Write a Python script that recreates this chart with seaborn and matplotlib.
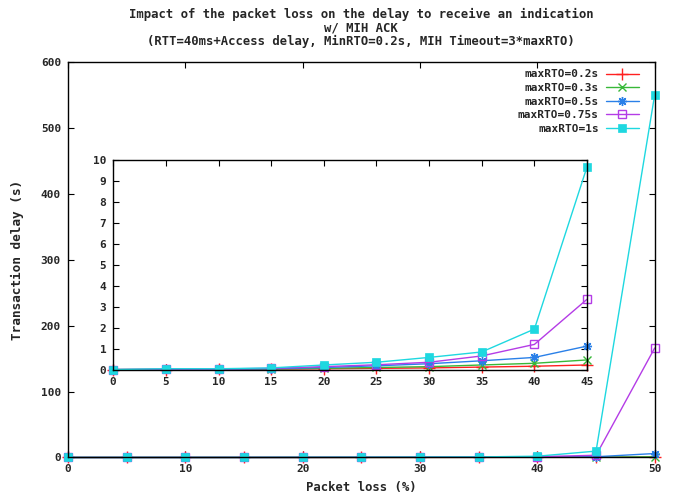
import matplotlib
matplotlib.use("Agg")
import matplotlib.pyplot as plt
import seaborn as sns
import pandas as pd

sns.set_theme(style="white")
plt.rcParams["font.family"] = ["DejaVu Sans Mono", "DejaVu Sans"]
plt.rcParams["font.weight"] = "bold"

# Packet loss (%) and measured transaction delay (s) per maxRTO setting
packet_loss = [0, 5, 10, 15, 20, 25, 30, 35, 40, 45, 50]
delay_rto_02 = [0.02, 0.02, 0.03, 0.04, 0.06, 0.08, 0.10, 0.14, 0.18, 0.24, 0.4]
delay_rto_03 = [0.02, 0.03, 0.03, 0.05, 0.08, 0.12, 0.16, 0.24, 0.32, 0.48, 1.0]
delay_rto_05 = [0.02, 0.03, 0.04, 0.06, 0.12, 0.20, 0.30, 0.44, 0.60, 1.14, 6.0]
delay_rto_075 = [0.02, 0.04, 0.05, 0.08, 0.16, 0.25, 0.37, 0.67, 1.22, 3.37, 166.0]
delay_rto_1 = [0.02, 0.06, 0.06, 0.10, 0.24, 0.37, 0.60, 0.86, 1.95, 9.68, 550.0]

series_labels = ["maxRTO=0.2s", "maxRTO=0.3s", "maxRTO=0.5s", "maxRTO=0.75s", "maxRTO=1s"]
series_values = [delay_rto_02, delay_rto_03, delay_rto_05, delay_rto_075, delay_rto_1]

colors = ["#ff2020", "#38b838", "#2a80e8", "#b43ce6", "#1ed8e0"]
styles = [
    dict(marker="+", markersize=8, mew=1.0),
    dict(marker="x", markersize=6, mew=1.0),
    dict(marker=(8, 2, 0), markersize=6.5, mew=1.0),
    dict(marker="s", markersize=6, mew=1.0, mfc="none"),
    dict(marker="s", markersize=6, mew=0.5),
]

fig = plt.figure(figsize=(6.74, 4.97), dpi=100)
ax = fig.add_axes([0.1009, 0.0795, 0.8705, 0.7965])
ins = fig.add_axes([0.168, 0.2555, 0.703, 0.4225])


def draw(axis, xmax):
    for lbl, vals, col, st in zip(series_labels, series_values, colors, styles):
        df = pd.DataFrame({"loss": packet_loss, "delay": vals})
        df = df[df["loss"] <= xmax]
        kw = dict(st)
        kw.setdefault("mfc", col)
        sns.lineplot(data=df, x="loss", y="delay", ax=axis, color=col,
                     linewidth=1.0, mec=col, label=lbl, clip_on=False, **kw)


draw(ax, 50)
draw(ins, 45)

tick_font = dict(fontsize=8, fontweight="bold")

# Main axes
ax.set_xlim(0, 50)
ax.set_ylim(0, 600)
ax.set_xticks(range(0, 51, 10))
ax.set_yticks(range(0, 601, 100))
ax.set_xticklabels([str(v) for v in range(0, 51, 10)], **tick_font)
ax.set_yticklabels([str(v) for v in range(0, 601, 100)], **tick_font)
ax.set_xlabel("Packet loss (%)", fontsize=8.8, fontweight="bold", labelpad=5)
ax.set_ylabel("Transaction delay (s)", fontsize=9.2, fontweight="bold", labelpad=12)
ax.set_title("Impact of the packet loss on the delay to receive an indication\n"
             "w/ MIH ACK\n"
             "(RTT=40ms+Access delay, MinRTO=0.2s, MIH Timeout=3*maxRTO)",
             fontsize=8.8, fontweight="bold", pad=12, linespacing=1.05)

# Inset zoom on the 0-45 % range
ins.set_xlim(0, 45)
ins.set_ylim(0, 10)
ins.set_xticks(range(0, 46, 5))
ins.set_yticks(range(0, 11, 1))
ins.set_xticklabels([str(v) for v in range(0, 46, 5)], **tick_font)
ins.set_yticklabels([str(v) for v in range(0, 11, 1)], **tick_font)
ins.set_xlabel("")
ins.set_ylabel("")
ins.get_legend().remove()

for a in (ax, ins):
    a.set_facecolor("white")
    for sp in a.spines.values():
        sp.set_visible(True)
        sp.set_color("black")
        sp.set_linewidth(1.0)
    a.tick_params(direction="in", length=4, width=0.8, color="black",
                  top=True, right=True, bottom=True, left=True, pad=5)

leg = ax.legend(loc="upper right", bbox_to_anchor=(1 - 8 / 587, 1.0),
                frameon=False, markerfirst=False,
                fontsize=8, handlelength=3.0, handletextpad=0.6,
                labelspacing=0.32, borderaxespad=0.3)
for t in leg.get_texts():
    t.set_fontweight("bold")

fig.savefig("out.png", dpi=100, facecolor="white")
